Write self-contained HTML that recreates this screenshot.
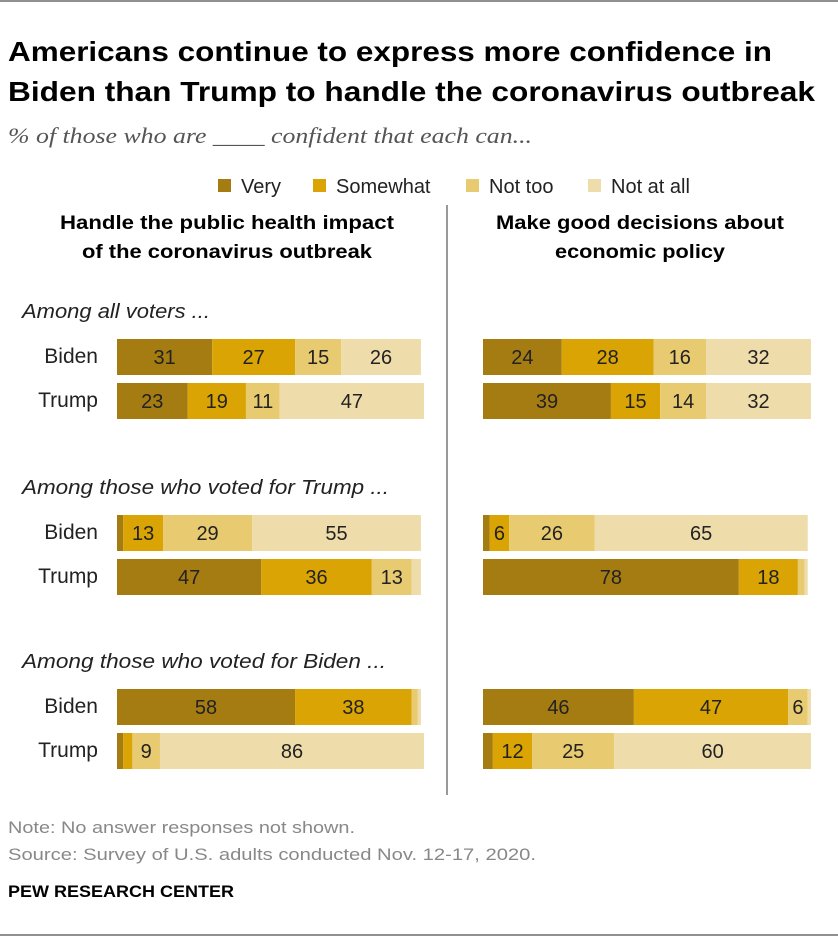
<!DOCTYPE html>
<html><head><meta charset="utf-8">
<style>
body{margin:0;background:#fff;}
svg text{font-family:"Liberation Sans",Arial,sans-serif;}
</style></head>
<body>
<svg width="838" height="942" viewBox="0 0 838 942" xmlns="http://www.w3.org/2000/svg">
<line x1="0" y1="1" x2="838" y2="1" stroke="#222" stroke-width="1"/>
<text x="8" y="61" font-size="28" font-weight="bold" fill="#000" textLength="764" lengthAdjust="spacingAndGlyphs">Americans continue to express more confidence in</text>
<text x="8" y="101" font-size="28" font-weight="bold" fill="#000" textLength="807" lengthAdjust="spacingAndGlyphs">Biden than Trump to handle the coronavirus outbreak</text>
<text x="8" y="143" font-size="22" font-style="italic" fill="#555" textLength="524" lengthAdjust="spacingAndGlyphs" style="font-family:'Liberation Serif',serif">% of those who are ____ confident that each can...</text>
<g id="legend"></g>
<text x="227" y="229" font-size="19" font-weight="bold" text-anchor="middle" textLength="334" lengthAdjust="spacingAndGlyphs">Handle the public health impact</text>
<text x="227" y="258" font-size="19" font-weight="bold" text-anchor="middle" textLength="290" lengthAdjust="spacingAndGlyphs">of the coronavirus outbreak</text>
<text x="640" y="229" font-size="19" font-weight="bold" text-anchor="middle" textLength="288" lengthAdjust="spacingAndGlyphs">Make good decisions about</text>
<text x="640" y="258" font-size="19" font-weight="bold" text-anchor="middle" textLength="170" lengthAdjust="spacingAndGlyphs">economic policy</text>
<line x1="447" y1="205" x2="447" y2="795" stroke="#333" stroke-width="1"/>
<g id="bars"></g>
<text x="8" y="833" font-size="17" fill="#888" textLength="347" lengthAdjust="spacingAndGlyphs">Note: No answer responses not shown.</text>
<text x="8" y="860" font-size="17" fill="#888" textLength="528" lengthAdjust="spacingAndGlyphs">Source: Survey of U.S. adults conducted Nov. 12-17, 2020.</text>
<text x="8" y="897" font-size="17" font-weight="bold" fill="#000" textLength="226" lengthAdjust="spacingAndGlyphs">PEW RESEARCH CENTER</text>
<line x1="0" y1="935" x2="838" y2="935" stroke="#222" stroke-width="1"/>
</svg>
<script>
const categories = ["Very","Somewhat","Not too","Not at all"];
const groups = ["Among all voters ...","Among those who voted for Trump ...","Among those who voted for Biden ..."];
const rowLabels = ["Biden","Trump"];
const healthValues = [[31,27,15,26],[23,19,11,47],[2,13,29,55],[47,36,13,3],[58,38,2,1],[2,3,9,86]];
const econValues = [[24,28,16,32],[39,15,14,32],[2,6,26,65],[78,18,2,1],[46,47,6,1],[3,12,25,60]];
const healthLabels = [["31","27","15","26"],["23","19","11","47"],["","13","29","55"],["47","36","13",""],["58","38","",""],["","","9","86"]];
const econLabels = [["24","28","16","32"],["39","15","14","32"],["","6","26","65"],["78","18","",""],["46","47","6",""],["","12","25","60"]];
const colors = ["#a57c12","#d9a404","#e8ca71","#efdcab"];
const NS="http://www.w3.org/2000/svg";
const barsG=document.getElementById('bars');
const legG=document.getElementById('legend');
function mk(tag,attrs,parent){const e=document.createElementNS(NS,tag);for(const k in attrs)e.setAttribute(k,attrs[k]);parent.appendChild(e);return e;}
const legX=[218,313,466,588];
categories.forEach((c,i)=>{
  const r=mk('rect',{x:legX[i],y:179,width:13,height:13,fill:colors[i]},legG);
  
  
  const t=mk('text',{x:legX[i]+23,y:193,'font-size':20,fill:'#222'},legG);
  t.textContent=c;
  
  
});
const groupY=[339,515,689];
const groupLen=[188,367,364];
const rowOff=[0,44];
const barH=36;
function xScaleL(v){return v*3.07;}
function xScaleR(v){return v*3.28;}
groups.forEach((g,gi)=>{
  const t=mk('text',{x:22,y:groupY[gi]-21,'font-size':20,'font-style':'italic',fill:'#222',textLength:groupLen[gi],lengthAdjust:'spacingAndGlyphs'},barsG);
  t.textContent=g;
  
  
});
function drawPanel(vals,labs,x0,sc,pname){
  vals.forEach((row,ri)=>{
    const gi=Math.floor(ri/2), k=ri%2;
    const y=groupY[gi]+rowOff[k];
    if(pname==='health'){
      const lt=mk('text',{x:98,y:y+barH/2+6,'font-size':21,'text-anchor':'end',fill:'#222'},barsG);
      lt.textContent=rowLabels[k];
      
      
    }
    let x=x0;
    row.forEach((v,si)=>{
      const w=sc(v);
      const r=mk('rect',{x:x,y:y,width:w,height:barH,fill:colors[si]},barsG);
      
      
      if(labs[ri][si]){
        const t=mk('text',{x:x+w/2,y:y+barH/2+7,'font-size':20,'text-anchor':'middle',fill:'#222'},barsG);
        t.textContent=labs[ri][si];
        
        
      }
      x+=w;
    });
  });
}
drawPanel(healthValues,healthLabels,117,xScaleL,'health');
drawPanel(econValues,econLabels,483,xScaleR,'econ');
</script>
</body></html>
